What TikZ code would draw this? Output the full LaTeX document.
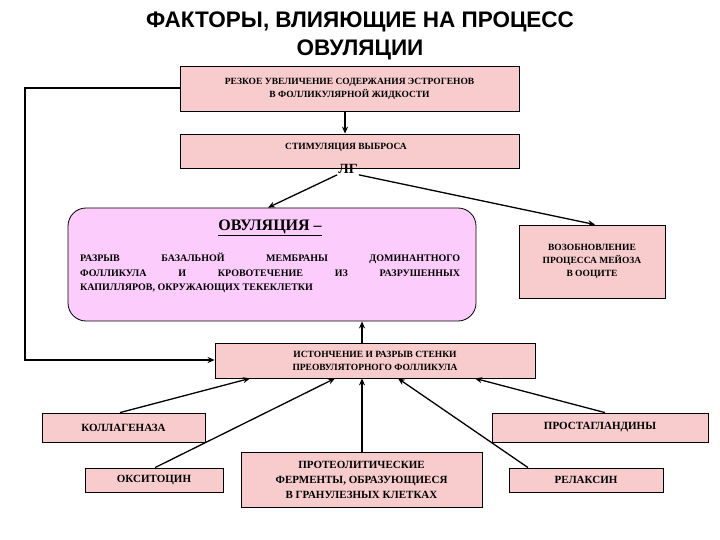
\documentclass[tikz,border=0pt]{standalone}
\usepackage{fontspec}
\setmainfont{Liberation Serif}
\newfontfamily\titlefont{Liberation Sans}
\usetikzlibrary{arrows.meta}
\definecolor{boxpink}{HTML}{F8CCCC}
\definecolor{ovpink}{HTML}{FCCCFC}
\tikzset{
  pbox/.style={draw=black, fill=boxpink, line width=0.8pt, align=center, inner sep=0pt},
  sm/.style={font=\bfseries\fontsize{9.5}{13}\selectfont},
  bg/.style={font=\bfseries\fontsize{11}{14}\selectfont},
  arr/.style={-{Stealth[length=7pt,width=6pt]}, line width=1.3pt},
}
\newcommand{\bx}[7]{\node[pbox, #7, minimum width=#4-#2, minimum height=#5-#3] (#1) at ({(#2+#4)/2},{-(#3+#5)/2}) {#6};}
\begin{document}
\begin{tikzpicture}[x=1pt,y=1pt]
\useasboundingbox (0,0) rectangle (720,-540);
\node[font=\titlefont\bfseries\fontsize{22.5}{28}\selectfont, align=center] (title) at (360,-36) {ФАКТОРЫ, ВЛИЯЮЩИЕ НА ПРОЦЕСС\\ОВУЛЯЦИИ};
\bx{b1}{180}{66}{519}{111}{РЕЗКОЕ УВЕЛИЧЕНИЕ СОДЕРЖАНИЯ ЭСТРОГЕНОВ\\В ФОЛЛИКУЛЯРНОЙ ЖИДКОСТИ}{sm}
\bx{b2}{180}{134}{519}{168}{}{sm}
\node[sm] (b2t) at (346,-147) {СТИМУЛЯЦИЯ ВЫБРОСА};
\node[font=\bfseries\fontsize{14}{15}\selectfont, inner sep=1pt] (lg) at (348,-169) {ЛГ};
\node[draw=black, fill=ovpink, rounded corners=18pt, line width=0.8pt, minimum width=408, minimum height=113] (ov) at (272,-264.5) {};
\node[font=\bfseries\fontsize{16}{17}\selectfont] (ovt) at (270,-228) {\underline{ОВУЛЯЦИЯ –}};
\node[font=\bfseries\fontsize{10}{14.5}\selectfont, align=left, anchor=north west, inner sep=0pt] (ovb) at (80,-253) {\makebox[380pt][s]{РАЗРЫВ БАЗАЛЬНОЙ МЕМБРАНЫ ДОМИНАНТНОГО}\\\makebox[380pt][s]{ФОЛЛИКУЛА И КРОВОТЕЧЕНИЕ ИЗ РАЗРУШЕННЫХ}\\КАПИЛЛЯРОВ, ОКРУЖАЮЩИХ ТЕКЕКЛЕТКИ};
\bx{me}{519}{225}{665}{298}{ВОЗОБНОВЛЕНИЕ\\ПРОЦЕССА МЕЙОЗА\\В ООЦИТЕ}{sm}
\bx{th}{215}{343}{535}{378}{ИСТОНЧЕНИЕ И РАЗРЫВ СТЕНКИ\\ПРЕОВУЛЯТОРНОГО ФОЛЛИКУЛА}{sm}
\bx{co}{42}{413}{205}{442}{КОЛЛАГЕНАЗА}{bg}
\bx{pr}{492}{413}{708}{442}{ПРОСТАГЛАНДИНЫ}{bg}
\bx{ox}{85}{468}{223}{492}{ОКСИТОЦИН}{bg}
\bx{pf}{241}{452}{482}{507}{ПРОТЕОЛИТИЧЕСКИЕ\\ФЕРМЕНТЫ, ОБРАЗУЮЩИЕСЯ\\В ГРАНУЛЕЗНЫХ КЛЕТКАХ}{font=\bfseries\fontsize{11}{15}\selectfont}
\bx{re}{509}{468}{663}{492}{РЕЛАКСИН}{bg}
\coordinate (fb1) at (25,-88);
\coordinate (fb2) at (25,-360);
\draw[arr] (b1.south -| 345,0) -- (b2.north -| 345,0);
\draw[arr] (lg.south west) -- (ov.north -| 268,0);
\draw[arr] (lg.south east) -- (me.north -| 595,0);
\draw[arr] (b1.west |- 0,-88) -- (fb1) -- (fb2) -- (th.west |- 0,-360);
\draw[arr] (th.north -| 362,0) -- (ov.south -| 362,0);
\draw[arr] (co.north -| 120,0) -- (th.south -| 250,0);
\draw[arr] (ox.north -| 155,0) -- (th.south -| 335,0);
\draw[arr] (pf.north -| 362,0) -- (th.south -| 362,0);
\draw[arr] (re.north -| 528,0) -- (th.south -| 398,0);
\draw[arr] (pr.north -| 605,0) -- (th.south -| 475,0);
\end{tikzpicture}
\end{document}
